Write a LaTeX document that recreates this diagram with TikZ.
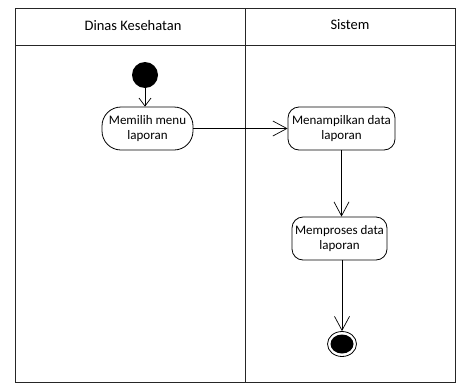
\documentclass[tikz,border=0pt]{standalone}
\usepackage{fontspec}
\setmainfont{Carlito}
\usetikzlibrary{arrows.meta,shapes.geometric}
\begin{document}
\begin{tikzpicture}[x=1pt,y=-1pt,
  lane/.style={draw=black!85,line width=0.9pt},
  act/.style={draw,line width=0.8pt,align=center,inner sep=0pt,
    font=\fontsize{13}{15}\selectfont},
  flow/.style={draw,line width=0.7pt,-{Straight Barb[length=14pt,width=15pt,line width=0.7pt]}},
  title/.style={font=\fontsize{14.5}{17}\selectfont}]
  \useasboundingbox (0,0) rectangle (462,383);
  % swimlane frame
  \draw[lane] (15,8) rectangle (455,382);
  \draw[lane] (15,45) -- (455,45);
  \draw[lane] (245,8) -- (245,382);
  \node[title] (laneA) at (133,26) {Dinas Kesehatan};
  \node[title] (laneB) at (350,25) {Sistem};
  % start and activities
  \node[circle,fill=black,minimum size=26pt,inner sep=0pt] (start) at (145,75) {};
  \node[act,rounded corners=19pt,minimum width=91pt,minimum height=43pt] (pilih) at (147.5,128.5) {Memilih menu\\laporan};
  \node[act,rounded corners=11pt,minimum width=107pt,minimum height=43pt] (tampil) at (341.5,128.5) {Menampilkan data\\laporan};
  \node[act,rounded corners=11pt,minimum width=95pt,minimum height=43pt] (proses) at (339.5,238.5) {Memproses data\\laporan};
  % final node
  \node[ellipse,draw,line width=0.8pt,minimum width=29pt,minimum height=25pt,inner sep=0pt] (stop) at (342,344) {};
  \fill (stop.center) ellipse (11.5pt and 9.5pt);
  % flows
  \draw[line width=0.7pt,-{Straight Barb[length=8pt,width=12pt,line width=0.7pt]}] (start) -- (start |- pilih.north);
  \draw[flow] (pilih) -- (tampil);
  \draw[flow] (tampil.south) -- (tampil.south |- proses.north);
  \draw[flow] (proses.south -| stop.center) -- (stop);
\end{tikzpicture}
\end{document}
